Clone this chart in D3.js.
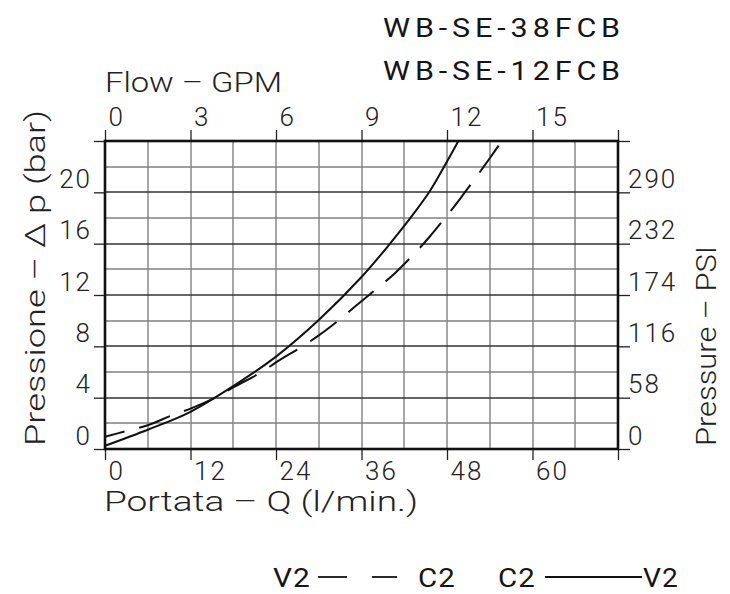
<!DOCTYPE html>
<meta charset="utf-8">
<style>
body { margin: 0; background: #fff; }
svg { background: #fff; }
.axis text { font: 300 26px Roboto, "DejaVu Sans", sans-serif; fill: #222; letter-spacing: 2px; }
.axis line { stroke: #222; stroke-width: 1.3px; }
.axis path { display: none; }
.grid line { stroke: #808080; stroke-width: 1.4px; }
.grid line.major { stroke: #333; stroke-width: 1.3px; }
.label { font: 300 27px Roboto, "DejaVu Sans", sans-serif; fill: #222; }
.title { font: 400 25px Roboto, "DejaVu Sans", sans-serif; fill: #151515; letter-spacing: 4px; }
.legend text { font: 400 26px Roboto, "DejaVu Sans", sans-serif; fill: #151515; letter-spacing: 1px; }
.curve { fill: none; stroke: #111; stroke-width: 2px; }
</style>
<body>
<div id="chart"></div>
<script src="https://cdn.jsdelivr.net/npm/d3@7"></script>
<script>
// curve C2 -> V2 (solid)
var flowSolid = [0, 6, 12, 18, 24, 30, 36, 40, 43, 45.6, 48, 49.6];
var dpSolid   = [0.25, 1.5, 2.9, 4.9, 7.2, 10.05, 13.4, 16.0, 18.1, 20.1, 22.4, 24];
// curve V2 -> C2 (dashed)
var flowDashed = [0, 3, 6, 9.5, 12, 16, 18, 22, 24, 28, 30, 33.4, 35.3, 38.8, 40.5, 43.8, 45.5, 48.3, 49.7, 52.5, 53.8, 55.7];
var dpDashed   = [0.95, 1.4, 1.85, 2.65, 3.15, 4.15, 4.8, 6.0, 6.75, 8.1, 8.85, 10.3, 11.2, 12.8, 13.6, 15.45, 16.5, 18.4, 19.4, 21.5, 22.5, 24];

var flowTicks = [0, 12, 24, 36, 48, 60, 72];   // l/min
var gpmTicks  = [0, 3, 6, 9, 12, 15, 18];
var barTicks  = [0, 4, 8, 12, 16, 20, 24];
var psiTicks  = [0, 58, 116, 174, 232, 290, 348];

var W = 730, H = 594,
    x0 = 105, x1 = 618, y0 = 141, y1 = 449;

var x = d3.scaleLinear().domain([0, 72]).range([x0, x1]),
    gpm = d3.scaleLinear().domain([0, 18]).range([x0, x1]),
    y = d3.scaleLinear().domain([0, 24]).range([y1, y0]),
    psi = d3.scaleLinear().domain([0, 348]).range([y1, y0]);

var svg = d3.select("#chart").append("svg")
    .attr("width", W)
    .attr("height", H);

// grid
var grid = svg.append("g").attr("class", "grid");
grid.selectAll(".v").data(d3.range(6, 72, 6)).enter().append("line")
    .attr("class", "v")
    .attr("x1", function(d) { return Math.round(x(d)); }).attr("x2", function(d) { return Math.round(x(d)); })
    .attr("y1", y0).attr("y2", y1);
grid.selectAll(".h").data(d3.range(2, 24, 2)).enter().append("line")
    .attr("class", function(d) { return d % 4 == 0 ? "h major" : "h"; })
    .attr("y1", function(d) { return Math.round(y(d)); }).attr("y2", function(d) { return Math.round(y(d)); })
    .attr("x1", x0).attr("x2", x1);

// axes
var noLast = function(list) { return function(d) { return d == list[list.length - 1] ? "" : d; }; };

svg.append("g").attr("class", "axis")
    .attr("transform", "translate(0," + y1 + ")")
    .call(d3.axisBottom(x).tickValues(flowTicks).tickSize(11).tickFormat(noLast(flowTicks)))
  .selectAll("text")
    .attr("text-anchor", "start").attr("x", 3).attr("y", 31).attr("dy", 0);

svg.append("g").attr("class", "axis")
    .attr("transform", "translate(0," + y0 + ")")
    .call(d3.axisTop(gpm).tickValues(gpmTicks).tickSize(11).tickFormat(noLast(gpmTicks)))
  .selectAll("text")
    .attr("text-anchor", "start").attr("x", 3).attr("y", -15).attr("dy", 0);

svg.append("g").attr("class", "axis")
    .attr("transform", "translate(" + x0 + ",0)")
    .call(d3.axisLeft(y).tickValues(barTicks).tickSize(11).tickFormat(noLast(barTicks)))
  .selectAll("text")
    .attr("text-anchor", "end").attr("x", -13).attr("y", -5).attr("dy", 0);

svg.append("g").attr("class", "axis")
    .attr("transform", "translate(" + x1 + ",0)")
    .call(d3.axisRight(psi).tickValues(psiTicks).tickSize(12).tickFormat(noLast(psiTicks)))
  .selectAll("text")
    .attr("text-anchor", "start").attr("x", 10).attr("y", -5).attr("dy", 0);

// frame
svg.append("rect")
    .attr("x", x0).attr("y", y0)
    .attr("width", x1 - x0).attr("height", y1 - y0)
    .attr("fill", "none").attr("stroke", "#111").attr("stroke-width", 2.6);

// curves
var line = d3.line()
    .x(function(d) { return x(d[0]); })
    .y(function(d) { return y(d[1]); })
    .curve(d3.curveCatmullRom);

svg.append("path").attr("class", "curve")
    .attr("d", line(d3.zip(flowSolid, dpSolid)));
var dashed = svg.append("path").attr("class", "curve")
    .attr("d", line(d3.zip(flowDashed, dpDashed)));
// short dash at both ends, ~32/15 pattern in between
var len = dashed.node().getTotalLength(),
    first = 20, last = 21,
    n = Math.max(1, Math.round((len - first - last + 15) / 47)),
    period = (len - first - last + 15) / n,
    dash = period * 32 / 47;
dashed.attr("stroke-dasharray", dash + "," + (period - dash))
    .attr("stroke-dashoffset", dash - first);

// texts
function stretched(sel, len) {
  return sel.attr("textLength", len).attr("lengthAdjust", "spacingAndGlyphs");
}
stretched(svg.append("text").attr("class", "title").attr("x", 383).attr("y", 37), 242).text("WB-SE-38FCB");
stretched(svg.append("text").attr("class", "title").attr("x", 383).attr("y", 80), 242).text("WB-SE-12FCB");

stretched(svg.append("text").attr("class", "label").attr("x", 105).attr("y", 92), 177).text("Flow – GPM");
stretched(svg.append("text").attr("class", "label").attr("x", 104).attr("y", 511), 314).text("Portata – Q (l/min.)");

stretched(svg.append("text").attr("class", "label")
    .attr("transform", "translate(45,446) rotate(-90)"), 336).text("Pressione – Δ p (bar)");
stretched(svg.append("text").attr("class", "label")
    .attr("transform", "translate(716,446) rotate(-90)"), 200).text("Pressure – PSI");

// legend
var legend = svg.append("g").attr("class", "legend");
stretched(legend.append("text").attr("x", 273).attr("y", 587), 38).text("V2");
legend.append("line").attr("x1", 318).attr("x2", 347).attr("y1", 577).attr("y2", 577)
    .attr("stroke", "#111").attr("stroke-width", 1.8);
legend.append("line").attr("x1", 372).attr("x2", 397).attr("y1", 577).attr("y2", 577)
    .attr("stroke", "#111").attr("stroke-width", 1.8);
stretched(legend.append("text").attr("x", 418).attr("y", 587), 38).text("C2");
stretched(legend.append("text").attr("x", 498).attr("y", 587), 38).text("C2");
legend.append("line").attr("x1", 545).attr("x2", 642).attr("y1", 577).attr("y2", 577)
    .attr("stroke", "#111").attr("stroke-width", 1.8);
stretched(legend.append("text").attr("x", 643).attr("y", 587), 36).text("V2");
</script>
